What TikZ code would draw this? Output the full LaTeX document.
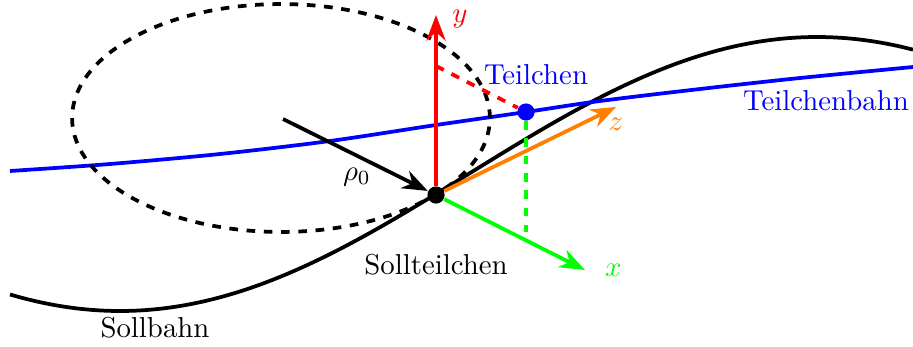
\documentclass[tikz,border=0pt]{standalone}
\usepackage{xcolor}
\usepackage{tikz}
\usetikzlibrary{arrows.meta, positioning, calc}
\definecolor{zorange}{RGB}{255, 128, 0}

\begin{document}
\begin{tikzpicture}[
    x=0.0122cm, y=-0.0122cm,
    bahn/.style={line width=1.3pt},
    achse/.style={line width=1.3pt, -Stealth},
    proj/.style={line width=1.3pt, dashed},
    punkt/.style={circle, fill, inner sep=0pt, minimum size=0.21cm}
]
\useasboundingbox (0,0) rectangle (913,347);

% Bahnen
\draw[bahn] plot[domain=10:913, samples=80, smooth] (\x, {174+137*cos(0.25825*(\x-120))});
\draw[bahn, blue] plot[smooth] coordinates {(10,171) (110,164) (220,154) (330,141) (436,125) (526,112) (600,101) (700,89) (800,78) (913,67)};
\draw[proj] (281,118) ellipse [x radius=2.550cm, y radius=1.391cm];

\node[punkt] (soll) at (436,195) {};
\node[punkt, blue] (teil) at (526,112) {};
\coordinate (mitte) at (283,119);
\coordinate (ytip) at (436,15);
\coordinate (ztip) at (616,107);
\coordinate (xtip) at (585,270);
\coordinate (yproj) at (436,66);
\coordinate (xproj) at (526,232);

% Achsen
\draw[achse, red] (soll) -- (ytip) node[right=4pt, inner sep=1pt, yshift=-1.5pt] (ylab) {$y$};
\draw[achse, zorange] (soll) -- (ztip) node[below] (zlab) {$z$};
\draw[achse, green] (soll) -- (xtip) node[right=3pt] (xlab) {$x$};
\draw[achse] (mitte) -- (soll);
\draw[proj, red] (yproj) -- (teil);
\draw[proj, green] (teil) -- (xproj);

% Beschriftungen
\node (rholab) at (357,177) {$\rho_0$};
\node[blue] (teillab) at (536,75) {Teilchen};
\node[blue] (bahnlab) at (826,101) {Teilchenbahn};
\node (solllab) at (436,265) {Sollteilchen};
\node (sollbahnlab) at (155,328) {Sollbahn};

\end{tikzpicture}
\end{document}
